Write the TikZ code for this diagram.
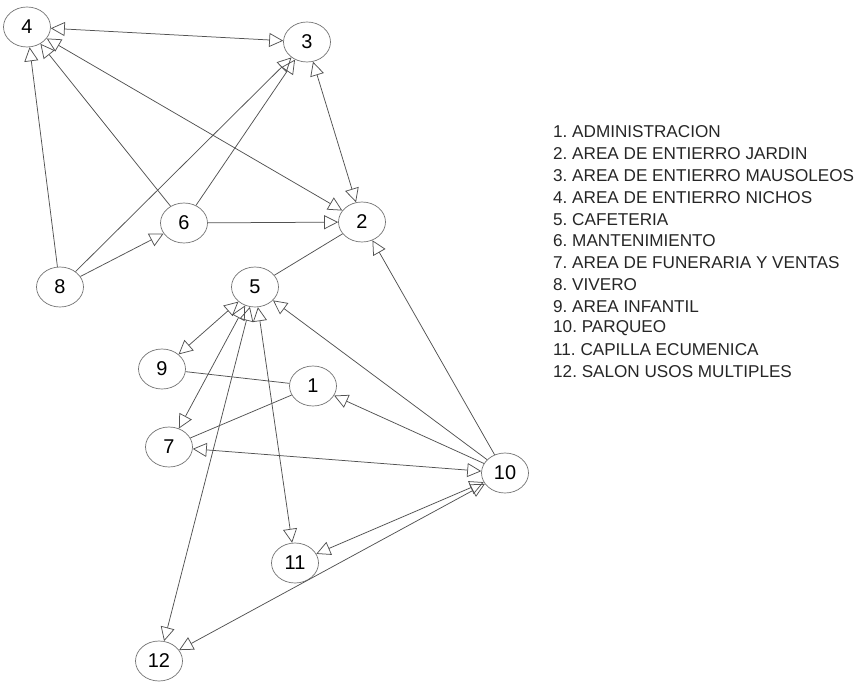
\documentclass[tikz,border=0pt]{standalone}
\usepackage{fontspec}
\setmainfont{Liberation Sans}
\usetikzlibrary{arrows.meta,shapes.geometric}
\frenchspacing
\tikzset{
  vtx/.style={ellipse, draw=black!55, fill=white, line width=0.7bp, minimum width=47bp, minimum height=40bp, inner sep=0pt, font=\fontsize{20}{20}\selectfont},
  lnk/.style={draw=black!68, line width=0.75bp},
  hd/.style={-{Triangle[open, length=14bp, width=14bp]}},
  bh/.style={{Triangle[open, length=14bp, width=14bp]}-{Triangle[open, length=14bp, width=14bp]}},
  leg/.style={anchor=west, inner sep=0pt, text=black!85, font=\fontsize{17.2}{17.2}\selectfont}
}
\begin{document}
\begin{tikzpicture}[x=1bp, y=-1bp]
\useasboundingbox (0,0) rectangle (859,686);
% vertices
\node[vtx] (n1) at (313,386) {1};
\node[vtx] (n2) at (362,222) {2};
\node[vtx] (n3) at (307,42) {3};
\node[vtx] (n4) at (27,27) {4};
\node[vtx] (n5) at (255,287) {5};
\node[vtx] (n6) at (184,223) {6};
\node[vtx] (n7) at (169,447) {7};
\node[vtx] (n8) at (60,287) {8};
\node[vtx] (n9) at (162,369) {9};
\node[vtx] (n10) at (505,473) {10};
\node[vtx] (n11) at (295,563) {11};
\node[vtx] (n12) at (159,661) {12};
% edges
\draw[lnk, bh] (n4) -- (n3);
\draw[lnk, hd] (n8) -- (n4);
\draw[lnk, hd] (n6) -- (n4);
\draw[lnk, bh] (n4) -- (n2);
\draw[lnk, bh] (n3) -- (n2);
\draw[lnk, hd] (n8) -- (n3);
\draw[lnk, hd] (n6) -- (n3);
\draw[lnk, hd] (n8) -- (n6);
\draw[lnk, hd] (n6) -- (n2);
\draw[lnk] (n5) -- (n2);
\draw[lnk, hd] (n10) -- (n2);
\draw[lnk, bh] (n5) -- (n9);
\draw[lnk, bh] (n5) -- (n7);
\draw[lnk, bh] (n5) -- (n12);
\draw[lnk, bh] (n5) -- (n11);
\draw[lnk, hd] (n10) -- (n5);
\draw[lnk] (n9) -- (n1);
\draw[lnk] (n1) -- (n7);
\draw[lnk, hd] (n10) -- (n1);
\draw[lnk, bh] (n7) -- (n10);
\draw[lnk, bh] (n10) -- (n11);
\draw[lnk, bh] (n10) -- (n12);
% legend
\node[leg] (l1) at (553,132.0) {1. ADMINISTRACION};
\node[leg] (l2) at (553,153.8) {2. AREA DE ENTIERRO JARDIN};
\node[leg] (l3) at (553,175.6) {3. AREA DE ENTIERRO MAUSOLEOS};
\node[leg] (l4) at (553,197.4) {4. AREA DE ENTIERRO NICHOS};
\node[leg] (l5) at (553,219.2) {5. CAFETERIA};
\node[leg] (l6) at (553,241.0) {6. MANTENIMIENTO};
\node[leg] (l7) at (553,262.8) {7. AREA DE FUNERARIA Y VENTAS};
\node[leg] (l8) at (553,284.6) {8. VIVERO};
\node[leg] (l9) at (553,306.4) {9. AREA INFANTIL};
\node[leg] (l10) at (553,328.2) {10. PARQUEO};
\node[leg] (l11) at (553,350.0) {11. CAPILLA ECUMENICA};
\node[leg] (l12) at (553,371.8) {12. SALON USOS MULTIPLES};
\end{tikzpicture}
\end{document}
